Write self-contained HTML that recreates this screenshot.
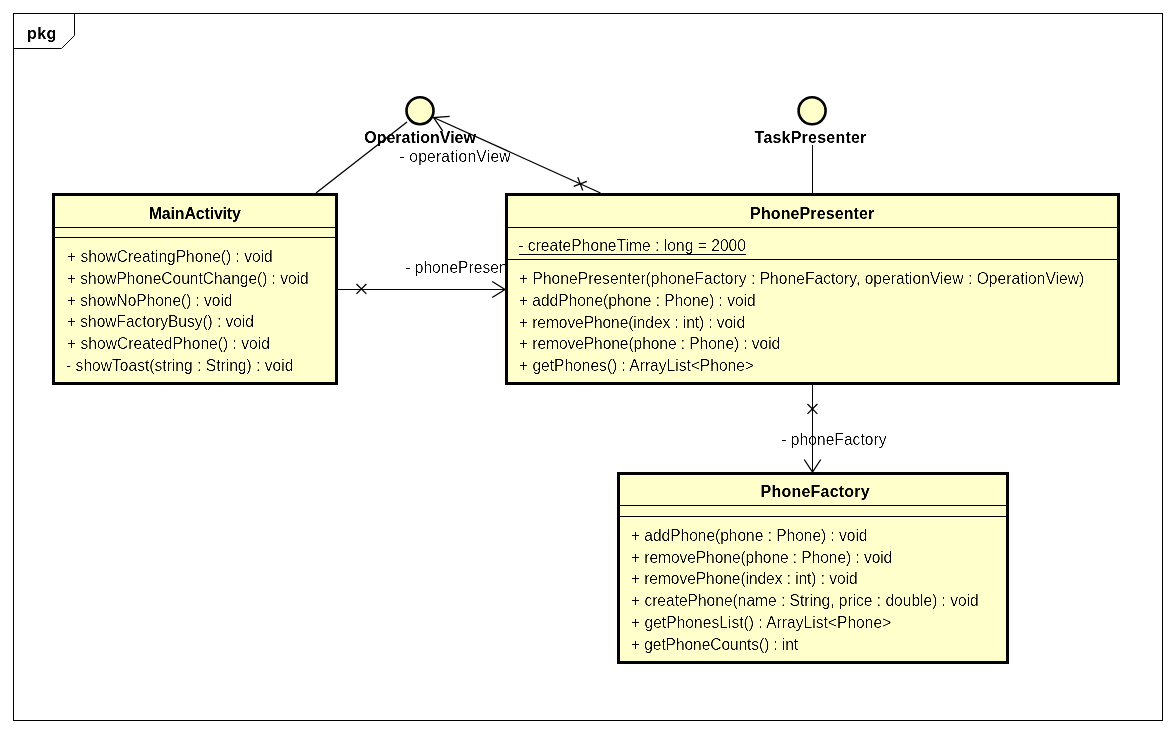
<!DOCTYPE html>
<html><head><meta charset="utf-8"><title>pkg</title>
<style>html,body{margin:0;padding:0;background:#fff;width:1176px;height:733px;overflow:hidden;position:relative} svg{will-change:transform}</style>
</head><body>
<svg width="1176" height="733" viewBox="0 0 1176 733" style="position:absolute;left:0;top:0">
<defs><filter id="tr" x="-2%" y="-30%" width="104%" height="160%" color-interpolation-filters="sRGB"><feComponentTransfer><feFuncA type="linear" slope="2.5" intercept="-1"/></feComponentTransfer></filter><filter id="tb" x="-2%" y="-30%" width="104%" height="160%" color-interpolation-filters="sRGB"><feComponentTransfer><feFuncA type="linear" slope="1.6" intercept="-0.3"/></feComponentTransfer></filter></defs>
<g font-family="'Liberation Sans', sans-serif" fill="#000">
<rect x="13.5" y="13.5" width="1149" height="707" fill="none" stroke="#000" stroke-width="1"/>
<path d="M13.5 48.5 H61.5 L74.5 35.5 V13.5" fill="none" stroke="#000" stroke-width="1"/>
<text x="26.89" y="39" font-size="16" font-weight="bold" textLength="29.49" lengthAdjust="spacing" filter="url(#tb)">pkg</text>
<text x="399.24" y="161.6" font-size="15.6" textLength="111.31" lengthAdjust="spacing" filter="url(#tr)">- operationView</text>
<text x="405.24" y="273" font-size="15.6" filter="url(#tr)">- phonePresenter</text>
<text x="781.24" y="444.6" font-size="15.6" textLength="105.24" lengthAdjust="spacing" filter="url(#tr)">- phoneFactory</text>
<text x="364.27" y="142.8" font-size="16" font-weight="bold" textLength="111.66" lengthAdjust="spacing" filter="url(#tb)">OperationView</text>
<text x="754.59" y="142.8" font-size="16" font-weight="bold" textLength="111.7" lengthAdjust="spacing" filter="url(#tb)">TaskPresenter</text>
<line x1="316" y1="193" x2="407" y2="122" stroke="#000" stroke-width="1.3"/>
<line x1="433.6" y1="117.5" x2="600.5" y2="193" stroke="#000" stroke-width="1.3"/>
<polyline points="442.69,130.79 433.6,117.5 449.65,116.28" fill="none" stroke="#000" stroke-width="1.3"/>
<line x1="577.8" y1="177.3" x2="582.74" y2="190.4" stroke="#000" stroke-width="1.3"/>
<line x1="573.72" y1="186.32" x2="586.82" y2="181.38" stroke="#000" stroke-width="1.3"/>
<line x1="338" y1="289.5" x2="505" y2="289.5" stroke="#000" stroke-width="1"/>
<polyline points="492.24,281.43 505,289.5 492.24,297.57" fill="none" stroke="#000" stroke-width="1.3"/>
<line x1="356.45" y1="283.95" x2="366.35" y2="293.85" stroke="#000" stroke-width="1.3"/>
<line x1="356.45" y1="293.85" x2="366.35" y2="283.95" stroke="#000" stroke-width="1.3"/>
<line x1="812.5" y1="385" x2="812.5" y2="472" stroke="#000" stroke-width="1"/>
<polyline points="820.8,459.51 812.5,472 804.2,459.51" fill="none" stroke="#000" stroke-width="1.3"/>
<line x1="817.35" y1="403.95" x2="807.45" y2="413.85" stroke="#000" stroke-width="1.3"/>
<line x1="807.45" y1="403.95" x2="817.35" y2="413.85" stroke="#000" stroke-width="1.3"/>
<line x1="812.5" y1="145" x2="812.5" y2="193" stroke="#000" stroke-width="1"/>
<circle cx="420" cy="110.7" r="13.5" fill="#FFFFCC" stroke="#000" stroke-width="2.6"/>
<circle cx="812.1" cy="110.75" r="13.5" fill="#FFFFCC" stroke="#000" stroke-width="2.6"/>
<rect x="53.5" y="194.5" width="283" height="189" fill="#FFFFCC" stroke="#000" stroke-width="3"/>
<line x1="55" y1="227.5" x2="335" y2="227.5" stroke="#000" stroke-width="1"/>
<line x1="55" y1="237.5" x2="335" y2="237.5" stroke="#000" stroke-width="1"/>
<text x="148.71" y="219" font-size="16" font-weight="bold" textLength="92.2" lengthAdjust="spacing" filter="url(#tb)">MainActivity</text>
<text x="67.0" y="262.0" font-size="15.6" textLength="205.78" lengthAdjust="spacing" filter="url(#tr)">+ showCreatingPhone() : void</text>
<text x="67.0" y="283.8" font-size="15.6" textLength="241.62" lengthAdjust="spacing" filter="url(#tr)">+ showPhoneCountChange() : void</text>
<text x="67.0" y="305.6" font-size="15.6" textLength="165.5" lengthAdjust="spacing" filter="url(#tr)">+ showNoPhone() : void</text>
<text x="67.0" y="327.4" font-size="15.6" textLength="186.93" lengthAdjust="spacing" filter="url(#tr)">+ showFactoryBusy() : void</text>
<text x="67.0" y="349.2" font-size="15.6" textLength="202.92" lengthAdjust="spacing" filter="url(#tr)">+ showCreatedPhone() : void</text>
<text x="66.04" y="371.0" font-size="15.6" textLength="227.34" lengthAdjust="spacing" filter="url(#tr)">- showToast(string : String) : void</text>
<rect x="506.5" y="194.5" width="612" height="189" fill="#FFFFCC" stroke="#000" stroke-width="3"/>
<line x1="508" y1="227.5" x2="1117" y2="227.5" stroke="#000" stroke-width="1"/>
<line x1="508" y1="259.5" x2="1117" y2="259.5" stroke="#000" stroke-width="1"/>
<text x="750.11" y="219" font-size="16" font-weight="bold" textLength="124.14" lengthAdjust="spacing" filter="url(#tb)">PhonePresenter</text>
<text x="518.24" y="251.0" font-size="15.6" textLength="227.77" lengthAdjust="spacing" filter="url(#tr)">- createPhoneTime : long = 2000</text>
<text x="519.0" y="284.0" font-size="15.6" textLength="565.28" lengthAdjust="spacing" filter="url(#tr)">+ PhonePresenter(phoneFactory : PhoneFactory, operationView : OperationView)</text>
<text x="519.0" y="305.8" font-size="15.6" textLength="236.66" lengthAdjust="spacing" filter="url(#tr)">+ addPhone(phone : Phone) : void</text>
<text x="519.0" y="327.6" font-size="15.6" textLength="226.17" lengthAdjust="spacing" filter="url(#tr)">+ removePhone(index : int) : void</text>
<text x="519.0" y="349.4" font-size="15.6" textLength="261.2" lengthAdjust="spacing" filter="url(#tr)">+ removePhone(phone : Phone) : void</text>
<text x="519.0" y="371.2" font-size="15.6" textLength="234.98" lengthAdjust="spacing" filter="url(#tr)">+ getPhones() : ArrayList&lt;Phone&gt;</text>
<line x1="519" y1="254.5" x2="746" y2="254.5" stroke="#000" stroke-width="1"/>
<rect x="618.5" y="473.5" width="389" height="189" fill="#FFFFCC" stroke="#000" stroke-width="3"/>
<line x1="620" y1="505.5" x2="1006" y2="505.5" stroke="#000" stroke-width="1"/>
<line x1="620" y1="516.5" x2="1006" y2="516.5" stroke="#000" stroke-width="1"/>
<text x="760.6" y="497" font-size="16" font-weight="bold" textLength="109.09" lengthAdjust="spacing" filter="url(#tb)">PhoneFactory</text>
<text x="631.0" y="540.8" font-size="15.6" textLength="236.56" lengthAdjust="spacing" filter="url(#tr)">+ addPhone(phone : Phone) : void</text>
<text x="631.0" y="562.6" font-size="15.6" textLength="261.3" lengthAdjust="spacing" filter="url(#tr)">+ removePhone(phone : Phone) : void</text>
<text x="631.0" y="584.4" font-size="15.6" textLength="226.58" lengthAdjust="spacing" filter="url(#tr)">+ removePhone(index : int) : void</text>
<text x="631.0" y="606.2" font-size="15.6" textLength="347.77" lengthAdjust="spacing" filter="url(#tr)">+ createPhone(name : String, price : double) : void</text>
<text x="631.0" y="628.0" font-size="15.6" textLength="260.28" lengthAdjust="spacing" filter="url(#tr)">+ getPhonesList() : ArrayList&lt;Phone&gt;</text>
<text x="631.0" y="649.8" font-size="15.6" textLength="167.2" lengthAdjust="spacing" filter="url(#tr)">+ getPhoneCounts() : int</text>
</g></svg>
</body></html>
